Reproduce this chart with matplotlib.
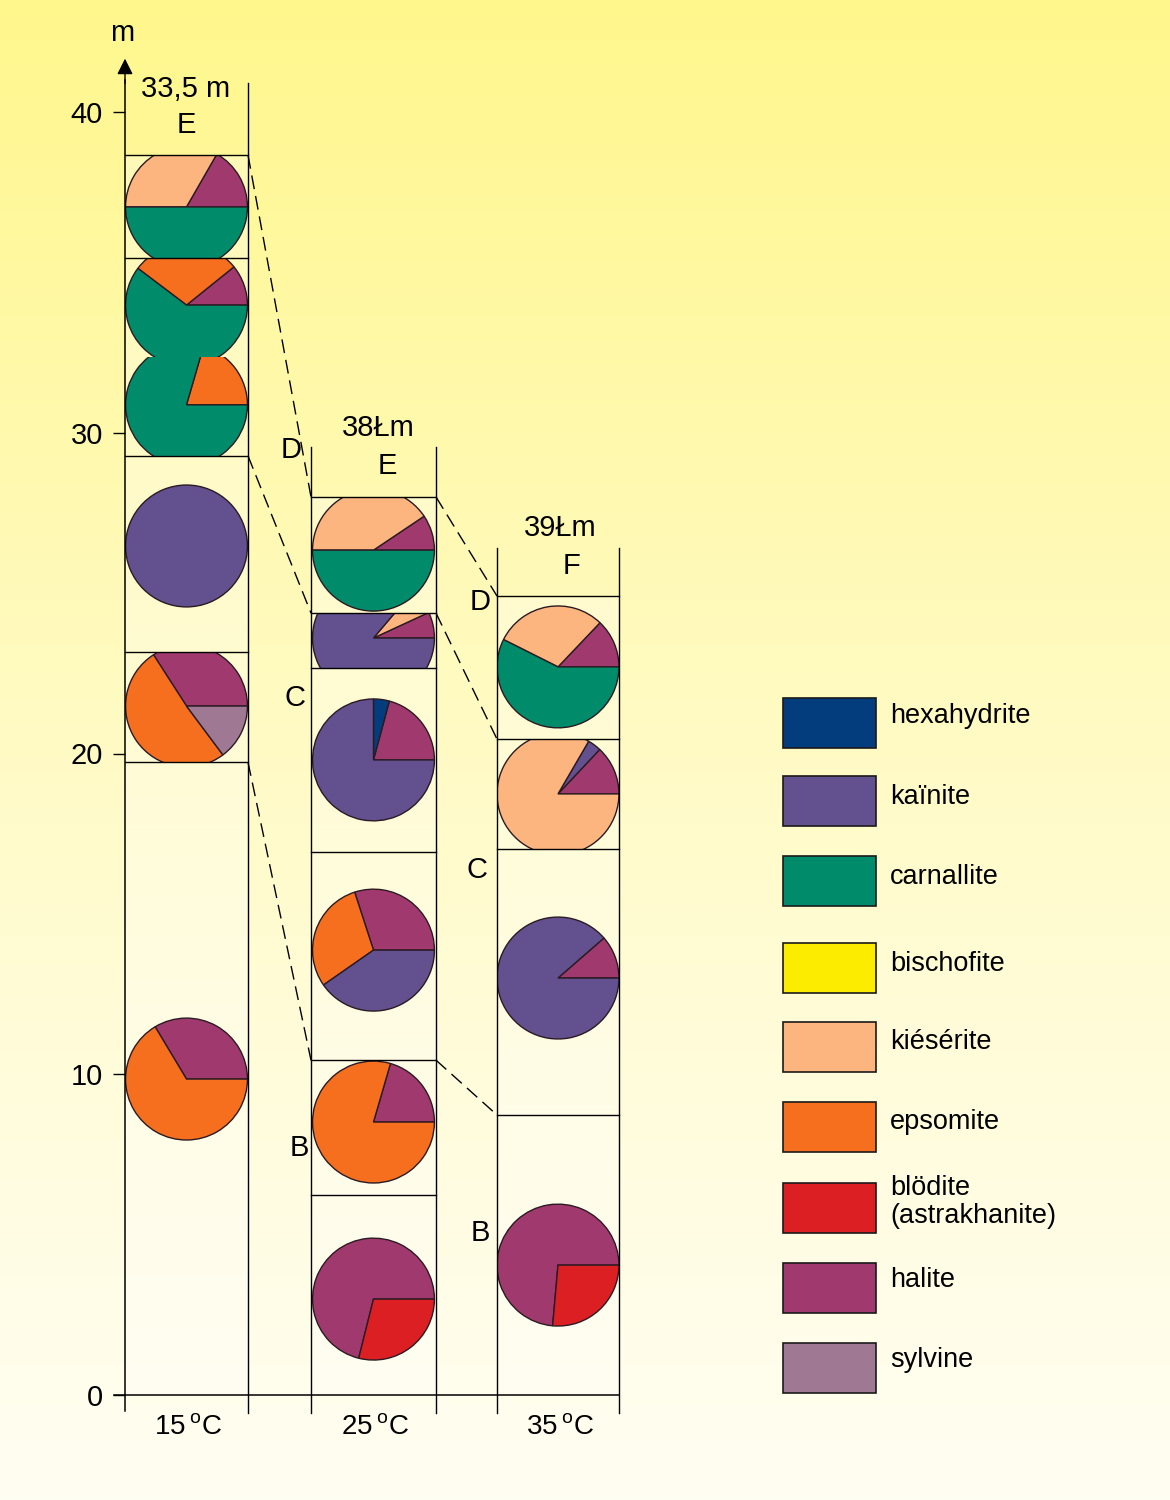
import numpy as np
import matplotlib
matplotlib.use('Agg')
import matplotlib.pyplot as plt
from matplotlib.patches import Wedge, Rectangle

plt.rcParams['font.family'] = ['Liberation Sans', 'DejaVu Sans']

# minerals and their colours (legend order)
minerals = ['hexahydrite', 'kaïnite', 'carnallite', 'bischofite', 'kiésérite',
            'epsomite', 'blödite\n(astrakhanite)', 'halite', 'sylvine']
mineral_colors = ['#033D7D', '#62508F', '#008C6B', '#FBEC00', '#FDB57F',
                  '#F56F1F', '#DB1F22', '#A03A6E', '#9F7993']
color_of = dict(zip(minerals, mineral_colors))

temps = ['15', '25', '35']
col_names = ['33,5 m', '38Łm', '39Łm']
col_zone_top = ['E', 'E', 'F']

# column extents (layout units, same scale as metres) and top of the column lines (m)
col_x = [(0.0, 3.834), (5.798, 9.694), (11.596, 15.40)]
col_top = [40.9, 29.56, 26.41]

# depth (m) of the drawn zone boundaries in each column
zone_lines = [[38.66, 35.45, 29.28, 23.16, 19.73],
              [28.00, 24.38, 22.67, 16.93, 10.44, 6.24],
              [24.91, 20.45, 17.02, 8.73]]

# correlation (dashed) lines: boundaries matched between neighbouring columns
links_12 = [(38.66, 28.00), (29.28, 24.38), (19.73, 10.44)]
links_23 = [(28.00, 24.91), (24.38, 20.45), (10.44, 8.73)]

# zone letters between columns
zone_letters = [('D', 5.17, 29.46), ('C', 5.30, 21.73), ('B', 5.42, 7.70),
                ('D', 11.07, 24.72), ('C', 10.97, 16.37), ('B', 11.07, 5.05)]

# pies: (centre depth, clip bottom, clip top, [(mineral, percent), ...]) counter-clockwise from 0 deg
pies_15 = [
    (37.04, 35.45, 38.66, [('halite', 16.7), ('kiésérite', 33.3), ('carnallite', 50.0)]),
    (33.98, 32.36, 35.45, [('halite', 10.8), ('epsomite', 28.9), ('carnallite', 60.3)]),
    (30.87, 29.28, 32.36, [('epsomite', 20.5), ('carnallite', 79.5)]),
    (26.47, 23.16, 29.28, [('kaïnite', 100.0)]),
    (21.48, 19.73, 23.16, [('halite', 34.1), ('epsomite', 51.1), ('sylvine', 14.8)]),
    (9.85, 0.0, 19.73, [('halite', 33.6), ('epsomite', 66.4)]),
]
pies_25 = [
    (26.34, 24.38, 28.00, [('halite', 9.4), ('kiésérite', 40.6), ('carnallite', 50.0)]),
    (23.60, 22.67, 24.38, [('halite', 6.9), ('kiésérite', 6.9), ('kaïnite', 86.2)]),
    (19.80, 16.93, 22.67, [('halite', 20.8), ('hexahydrite', 4.2), ('kaïnite', 75.0)]),
    (13.87, 10.44, 16.93, [('halite', 30.0), ('epsomite', 29.7), ('kaïnite', 40.3)]),
    (8.51, 6.24, 10.44, [('halite', 20.5), ('epsomite', 79.5)]),
    (2.99, 0.0, 6.24, [('halite', 71.1), ('blödite\n(astrakhanite)', 28.9)]),
]
pies_35 = [
    (22.70, 20.45, 24.91, [('halite', 12.9), ('kiésérite', 29.7), ('carnallite', 57.4)]),
    (18.74, 17.02, 20.45, [('halite', 13.0), ('kaïnite', 3.6), ('kiésérite', 83.4)]),
    (13.00, 8.73, 17.02, [('halite', 11.4), ('kaïnite', 88.6)]),
    (4.05, 0.0, 8.73, [('halite', 73.6), ('blödite\n(astrakhanite)', 26.4)]),
]
all_pies = [pies_15, pies_25, pies_35]
pie_radius = 1.90

fig = plt.figure(figsize=(11.7, 15), dpi=100)

# background gradient
bg = fig.add_axes([0, 0, 1, 1])
bg.axis('off')
t = np.linspace(0, 1, 300)[:, None]
stops_t = [0.0, 0.4, 0.7, 1.0]
stops_c = np.array([[255, 247, 140], [255, 250, 186], [255, 252, 218], [255, 254, 242]]) / 255
grad = np.stack([np.interp(t, stops_t, stops_c[:, k]) for k in range(3)], axis=-1)
grad = np.repeat(grad, 2, axis=1)
bg.imshow(grad, aspect='auto', extent=(0, 1, 0, 1), origin='upper')
bg.set_xlim(0, 1)
bg.set_ylim(0, 1)

ax = fig.add_axes([125 / 1170, 105 / 1500, 494 / 1170, 1283 / 1500])
ax.set_facecolor('none')
ax.set_xlim(0, 15.40)
ax.set_ylim(0, 40)
for s in ax.spines.values():
    s.set_visible(False)
ax.set_xticks([])
ax.set_yticks([0, 10, 20, 30, 40])
ax.tick_params(axis='y', direction='out', length=9, width=1, labelsize=21, pad=7)

edge = '#2b1a22'
fs = 21

for ci, (x0, x1) in enumerate(col_x):
    top_zone = zone_lines[ci][0]
    ax.add_patch(Rectangle((x0, 0), x1 - x0, top_zone, facecolor='white', alpha=0.3,
                           edgecolor='none', zorder=1))
    xc = (x0 + x1) / 2
    for depth, lo, hi, parts in all_pies[ci]:
        clip = Rectangle((x0, lo), x1 - x0, hi - lo, transform=ax.transData,
                         facecolor='none', edgecolor='none')
        ax.add_patch(clip)
        theta = 0.0
        for name, pct in parts:
            th2 = theta + pct * 3.6
            w = Wedge((xc, depth), pie_radius, theta, th2, facecolor=color_of[name],
                      edgecolor=edge, linewidth=1.0, zorder=2)
            ax.add_patch(w)
            w.set_clip_path(clip)
            theta = th2
    # column side lines
    ax.plot([x1, x1], [-0.55, col_top[ci]], color='black', lw=1.0, clip_on=False, zorder=4)
    if ci > 0:
        ax.plot([x0, x0], [-0.55, col_top[ci]], color='black', lw=1.0, clip_on=False, zorder=4)
    for d in zone_lines[ci]:
        ax.plot([x0, x1], [d, d], color='black', lw=1.0, clip_on=False, zorder=4)
    ax.text(xc + 0.05, -1.03, temps[ci] + '$\\,^{\\mathregular{o}}$C', fontsize=20,
            ha='center', va='center')

# header labels
ax.text(1.90, 40.72, col_names[0], fontsize=fs, ha='center', va='center')
ax.text(1.90, 39.59, col_zone_top[0], fontsize=fs, ha='center', va='center')
ax.text(7.89, 30.15, col_names[1], fontsize=fs, ha='center', va='center')
ax.text(8.17, 28.96, col_zone_top[1], fontsize=fs, ha='center', va='center')
ax.text(13.56, 27.03, col_names[2], fontsize=fs, ha='center', va='center')
ax.text(13.93, 25.85, col_zone_top[2], fontsize=fs, ha='center', va='center')
for letter, lx, ly in zone_letters:
    ax.text(lx, ly, letter, fontsize=fs, ha='center', va='center')

# dashed correlation lines
for a, b in links_12:
    ax.plot([col_x[0][1], col_x[1][0]], [a, b], color='black', lw=1.0,
            dashes=(10, 5), clip_on=False, zorder=3)
for a, b in links_23:
    ax.plot([col_x[1][1], col_x[2][0]], [a, b], color='black', lw=1.0,
            dashes=(10, 5), clip_on=False, zorder=3)

# axes lines
ax.plot([0, 0], [-0.5, 41.0], color='black', lw=1.1, clip_on=False, zorder=5)
ax.plot([-0.35, col_x[2][1]], [0, 0], color='black', lw=1.1, clip_on=False, zorder=5)
ax.annotate('', xy=(0, 41.75), xytext=(0, 40.8), annotation_clip=False,
            arrowprops=dict(arrowstyle='-|>', color='black', lw=1, mutation_scale=24))
ax.text(-0.09, 42.46, 'm', fontsize=fs, ha='center', va='center')

# legend
leg_tops = [698, 776, 856, 943, 1022, 1102, 1183, 1263, 1343]
leg_text_y = [716, 797, 877, 964, 1042, 1122, 1202, 1280, 1360]
for name, col, top, ty in zip(minerals, mineral_colors, leg_tops, leg_text_y):
    fig.patches.append(Rectangle((783 / 1170, 1 - (top + 50) / 1500), 93 / 1170, 50 / 1500,
                                 transform=fig.transFigure, facecolor=col,
                                 edgecolor='#1a1a1a', linewidth=1.2, zorder=3))
    fig.text(890 / 1170, 1 - ty / 1500, name, fontsize=19.5, ha='left', va='center',
             linespacing=1.1)

fig.savefig('out.png', dpi=100)
